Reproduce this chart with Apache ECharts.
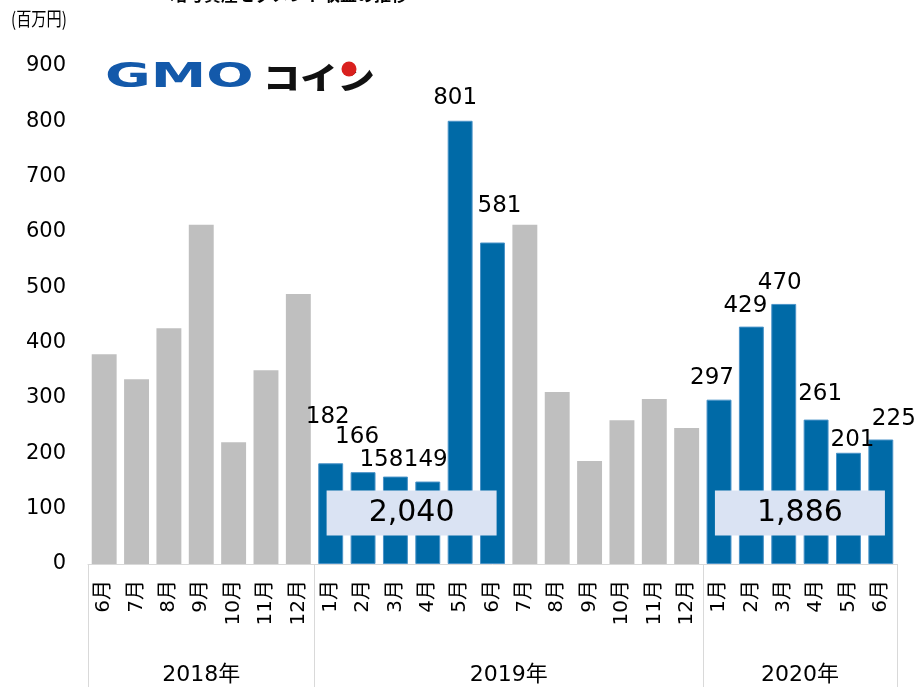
<!DOCTYPE html>
<html><head><meta charset="utf-8">
<script src="https://cdn.jsdelivr.net/npm/echarts@6/dist/echarts.min.js"></script>
<style>html,body{margin:0;padding:0;background:#fff}#c{width:918px;height:687px}</style>
</head><body><div id="c"></div>
<script>
const months = ['6月','7月','8月','9月','10月','11月','12月',
  '1月','2月','3月','4月','5月','6月','7月','8月','9月','10月','11月','12月',
  '1月','2月','3月','4月','5月','6月'];
const years = ['2018年','2019年','2020年'];
const yearStart = [0, 7, 19];
const revenue = [379,334,426,613,220,350,488,
  182,166,158,149,801,581,613,311,186,260,298,246,
  297,429,470,261,201,225];
const highlighted = [0,0,0,0,0,0,0, 1,1,1,1,1,1, 0,0,0,0,0,0, 1,1,1,1,1,1];
const halfTotals = ['2,040','1,886'];
const yTicks = [0,100,200,300,400,500,600,700,800,900];
const unitLabel = '(百万円)';
const titleText = '暗号資産セグメント収益の推移';

// label nudges (style only), keyed by category index
const labelNudge = {7:[-3,-30],8:[-6,-19],9:[-14,0],10:[-2,-5],11:[-5,-6],12:[7,-20],
  19:[-7,-5],20:[-6,-4],21:[-4,-4],22:[4,-9],23:[4,4],24:[13,-4]};

const FONT = "'DejaVu Sans', 'Noto Sans CJK JP', sans-serif";
const GRAY = '#BFBFBF', BLUE = '#006AA7';

const barData = revenue.map((v, i) => {
  const item = { value: v, itemStyle: highlighted[i] ? { color: BLUE, borderColor: '#4A93C8', borderWidth: 1 } : { color: GRAY } };
  if (highlighted[i]) {
    item.label = { show: true, position: 'top', distance: 5, offset: labelNudge[i] || [0, 0] };
  }
  return item;
});

const yearCenters = yearStart.map((s, k) => ((s + (k + 1 < yearStart.length ? yearStart[k + 1] : months.length)) / 2));
const totalsData = [
  [yearStart[1] + 3, 92, halfTotals[0]],
  [yearStart[2] + 3, 92, halfTotals[1]]
];

const chart = echarts.init(document.getElementById('c'), null, { renderer: 'canvas' });
chart.setOption({
  animation: false,
  textStyle: { fontFamily: FONT },
  grid: { left: 88, right: 21, top: 66, bottom: 123, containLabel: false, outerBoundsMode: 'none' },
  xAxis: [{
    type: 'category', data: months,
    axisLine: { show: true, lineStyle: { color: '#D9D9D9', width: 1 } },
    axisTick: { show: true, interval: (i) => yearStart.includes(i), length: 125, lineStyle: { color: '#D9D9D9', width: 1 } },
    axisLabel: { interval: 0, rotate: 90, fontSize: 20, margin: 16, color: '#000', fontFamily: FONT },
    splitLine: { show: false }
  }, {
    type: 'value', min: 0, max: months.length, interval: 0.5, position: 'bottom', offset: 100,
    axisLine: { show: false }, axisTick: { show: false }, splitLine: { show: false },
    axisLabel: {
      show: true, fontSize: 22, color: '#000', margin: 0, fontFamily: FONT, hideOverlap: false,
      formatter: (v) => { const k = yearCenters.findIndex(c => Math.abs(c - v) < 1e-6); return k >= 0 ? years[k] : ''; }
    }
  }],
  yAxis: {
    type: 'value', min: 0, max: 900, interval: 100,
    axisLine: { show: false }, axisTick: { show: false }, splitLine: { show: false },
    axisLabel: { fontSize: 21, color: '#000', margin: 22, fontFamily: FONT,
      formatter: (v) => yTicks.includes(v) ? String(v) : '' }
  },
  series: [{
    type: 'bar', data: barData, barCategoryGap: '23%', xAxisIndex: 0, yAxisIndex: 0,
    label: { fontSize: 23, color: '#000', fontFamily: FONT },
    silent: true
  }, {
    type: 'scatter', xAxisIndex: 1, yAxisIndex: 0, data: totalsData, z: 5, silent: true,
    symbol: 'rect', symbolSize: [170, 45],
    itemStyle: { color: '#DAE3F3', opacity: 1 },
    label: { show: true, position: 'inside', formatter: (p) => p.data[2], fontSize: 30, color: '#000', fontFamily: FONT }
  }],
  graphic: [
    { type: 'text', x: 289, y: 3, silent: true,
      style: { text: titleText, font: "bold 17px 'Noto Sans CJK JP'", fill: '#000', align: 'center', verticalAlign: 'bottom' } },
    { type: 'text', x: 11, y: 9, scaleX: 0.8, silent: true,
      style: { text: unitLabel, font: "19px 'Noto Sans CJK JP'", fill: '#000', align: 'left', verticalAlign: 'top' } },
    { type: 'text', x: 105, y: 61, scaleX: 1.64, silent: true,
      style: { text: 'GMO', font: "bold 34px 'DejaVu Sans'", fill: '#1359AA', align: 'left', verticalAlign: 'top' } },
    { type: 'text', x: 263, y: 62, scaleX: 1.2, silent: true,
      style: { text: 'コイン', font: "900 31px 'Noto Sans CJK JP'", fill: '#111', align: 'left', verticalAlign: 'top' } },
    { type: 'circle', shape: { cx: 349, cy: 69, r: 7.5 }, silent: true, z: 10, style: { fill: '#D9201E' } }
  ]
});
</script></body></html>
